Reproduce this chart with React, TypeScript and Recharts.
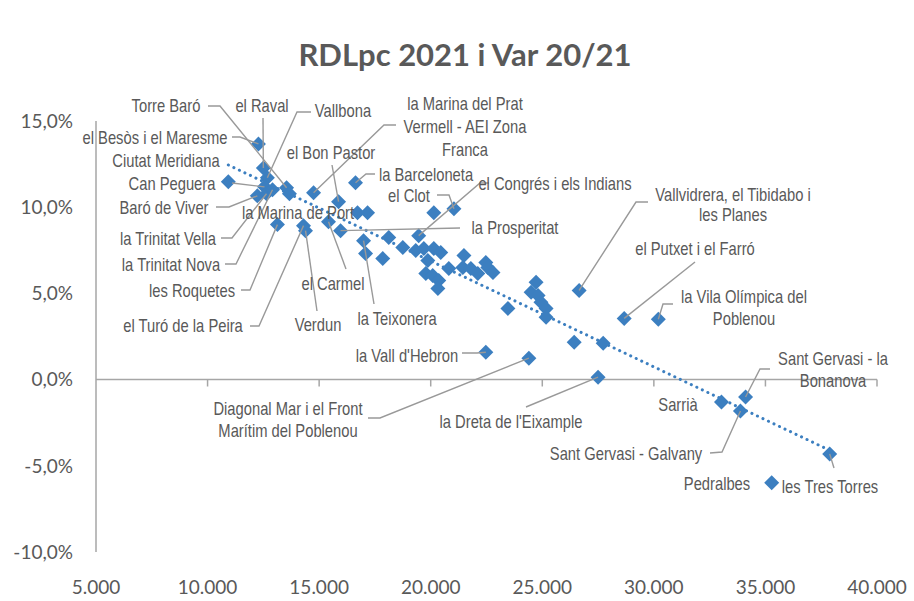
import React from 'react';
import { ScatterChart, Scatter, XAxis, YAxis, ReferenceLine } from 'recharts';

// RDLpc 2021 (x) vs variation 20/21 in % (y), one entry per neighbourhood
const neighbourhoods = [
  'el Besòs i el Maresme', 'el Raval', 'Vallbona', 'Ciutat Meridiana', 'Can Peguera',
  'Baró de Viver', 'la Trinitat Vella', 'la Trinitat Nova', 'Torre Baró', 'la Marina de Port',
  'la Marina del Prat Vermell - AEI Zona Franca', 'el Bon Pastor', 'la Barceloneta', 'les Roquetes',
  'el Turó de la Peira', 'Verdun', 'el Carmel', 'la Prosperitat', 'la Teixonera', 'el Clot',
  'el Congrés i els Indians', 'Vallvidrera, el Tibidabo i les Planes', "la Vall d'Hebron",
  'Diagonal Mar i el Front Marítim del Poblenou', "la Dreta de l'Eixample", 'el Putxet i el Farró',
  'la Vila Olímpica del Poblenou', 'Sarrià', 'Sant Gervasi - la Bonanova', 'Sant Gervasi - Galvany',
  'les Tres Torres', 'Pedralbes',
  '', '', '', '', '', '', '', '', '', '', '', '', '', '', '', '', '',
  '', '', '', '', '', '', '', '', '', '', '', '', '', '', '', '',
];

const rdlpc = [
  12280, 12500, 12680, 10930, 12550, 12230, 12640, 12910, 13540, 13670,
  14750, 15870, 16630, 13130, 14300, 14390, 15420, 15960, 16990, 21040,
  19460, 26650, 22470, 24400, 27500, 28670, 30200, 33030, 34110, 33880,
  37880, 35280,
  16720, 17170, 18120, 18750, 17080, 17850, 20140, 19330, 19690, 20140,
  20450, 19870, 19780, 20090, 20360, 20320, 20810, 21490, 21440, 21800,
  22110, 22470, 22560, 22790, 23460, 24720, 24500, 24810, 24940, 25170,
  25170, 26430, 27730,
];

const variation = [
  13.67, 12.28, 11.71, 11.47, 11.18, 10.66, 10.78, 11.01, 11.13, 10.78,
  10.84, 10.32, 11.42, 8.99, 8.93, 8.64, 9.16, 8.64, 8.06, 9.91,
  8.35, 5.17, 1.59, 1.24, 0.14, 3.55, 3.5, -1.3, -1.01, -1.82,
  -4.31, -5.98,
  9.68, 9.68, 8.24, 7.66, 7.31, 7.02, 9.68, 7.49, 7.6, 7.6,
  7.37, 6.91, 6.16, 6.04, 5.75, 5.29, 6.45, 7.2, 6.5, 6.45,
  6.16, 6.79, 6.5, 6.21, 4.13, 5.64, 5.06, 4.88, 4.48, 4.13,
  3.61, 2.17, 2.11,
];

const xTicks = [5000, 10000, 15000, 20000, 25000, 30000, 35000, 40000];
const yTicks = [-10, -5, 0, 5, 10, 15];

// linear trend, read at its two ends
const trendX = [10930, 37880];
const trendY = [12.45, -4.1];

const points = neighbourhoods.map((name, i) => ({ name, x: rdlpc[i], y: variation[i] }));

// where the data labels sit (text centre, line centres) and the elbow of each leader
const labelLayout: Record<string, { x: number; y: number[]; lines?: string[]; leader?: number[][] }> = {
  'Torre Baró': { x: 166, y: [105], leader: [[208, 106], [220, 106]] },
  'el Besòs i el Maresme': { x: 155, y: [137], leader: [[232, 137], [240, 137]] },
  'el Raval': { x: 262, y: [105], leader: [[263, 118]] },
  Vallbona: { x: 343, y: [110], leader: [[311, 112], [297, 112]] },
  'Ciutat Meridiana': { x: 166, y: [160] },
  'Can Peguera': { x: 172, y: [183], leader: [[232, 183]] },
  'Baró de Viver': { x: 164, y: [207], leader: [[216, 207], [229, 207]] },
  'la Trinitat Vella': { x: 168, y: [238], leader: [[221, 238], [232, 238]] },
  'la Trinitat Nova': { x: 171, y: [264], leader: [[225, 264], [236, 264]] },
  'les Roquetes': { x: 192, y: [290], leader: [[241, 290], [250, 290]] },
  'el Turó de la Peira': { x: 183, y: [325], leader: [[250, 326], [259, 326]] },
  Verdun: { x: 318, y: [324], leader: [[317, 311]] },
  'la Marina de Port': { x: 298, y: [212] },
  'el Carmel': { x: 333, y: [283], leader: [[346, 269]] },
  'la Teixonera': { x: 397, y: [318], leader: [[374, 304]] },
  'el Bon Pastor': { x: 331, y: [152], leader: [[332, 165]] },
  'la Marina del Prat Vermell - AEI Zona Franca': {
    x: 465, y: [103, 126, 149], lines: ['la Marina del Prat', 'Vermell - AEI  Zona', 'Franca'],
    leader: [[396, 125], [384, 125]],
  },
  'la Barceloneta': { x: 426, y: [174], leader: [[375, 174], [366, 174]] },
  'el Clot': { x: 409, y: [195], leader: [[437, 195], [449, 195]] },
  'el Congrés i els Indians': { x: 555, y: [183], leader: [[489, 183], [480, 183]] },
  'la Prosperitat': { x: 515, y: [227], leader: [[460, 228]] },
  'Vallvidrera, el Tibidabo i les Planes': {
    x: 733, y: [194, 214], lines: ['Vallvidrera, el Tibidabo i', 'les Planes'],
    leader: [[648, 202], [636, 202]],
  },
  'el Putxet i el Farró': { x: 695, y: [248], leader: [[695, 262]] },
  'la Vila Olímpica del Poblenou': {
    x: 744, y: [296, 318], lines: ['la Vila Olímpica del', 'Poblenou'],
    leader: [[673, 304], [663, 304]],
  },
  'Sant Gervasi - la Bonanova': {
    x: 833, y: [358, 380], lines: ['Sant Gervasi - la', 'Bonanova'],
    leader: [[770, 369], [760, 369]],
  },
  Sarrià: { x: 678, y: [404] },
  'Sant Gervasi - Galvany': { x: 626, y: [453], leader: [[710, 453], [722, 452]] },
  Pedralbes: { x: 717, y: [483] },
  'les Tres Torres': { x: 830, y: [486], leader: [[834, 468]] },
  "la Vall d'Hebron": { x: 407, y: [355], leader: [[462, 353], [477, 353]] },
  'Diagonal Mar i el Front Marítim del Poblenou': {
    x: 288, y: [408, 430], lines: ['Diagonal Mar i el Front', 'Marítim del Poblenou'],
    leader: [[368, 418], [380, 418]],
  },
  "la Dreta de l'Eixample": { x: 511, y: [421], leader: [[526, 407]] },
};

const BLUE = '#3c7fc0';
const GREY_TEXT = '#595959';
const AXIS = '#a6a6a6';
const LABEL_FONT = "'Liberation Sans', Arial, sans-serif";
const TICK_FONT = 'Lato, sans-serif';

const Diamond = (props: any) => {
  const { cx, cy } = props;
  const r = 7.5;
  return <path d={`M${cx},${cy - r}L${cx + r},${cy}L${cx},${cy + r}L${cx - r},${cy}Z`} fill={BLUE} />;
};

// labels look like Arial Narrow: Liberation Sans squeezed horizontally
const NameLabel = (props: any) => {
  const { cx, cy, payload } = props;
  const spec = labelLayout[payload.name];
  if (!spec) return <g />;
  const lines = spec.lines || [payload.name];
  const pts = spec.leader ? [...spec.leader, [cx, cy]] : null;
  return (
    <g>
      {pts && (
        <polyline
          points={pts.map((p) => p.join(',')).join(' ')}
          fill='none'
          stroke='#999999'
          strokeWidth={1.4}
        />
      )}
      {lines.map((line, i) => (
        <text
          key={i}
          transform={`translate(${spec.x} ${spec.y[i]}) scale(0.82 1)`}
          x={0}
          y={0}
          textAnchor='middle'
          dominantBaseline='central'
          fontFamily={LABEL_FONT}
          fontSize={18}
          fill={GREY_TEXT}
        >
          {line}
        </text>
      ))}
    </g>
  );
};

const fmtX = (v: number) => `${v / 1000}.000`;
const fmtY = (v: number) => `${v.toFixed(1).replace('.', ',')}%`;

const App = () => {
  return (
    <div style={{ position: 'absolute', left: 0, top: 0, width: 914, height: 601, background: '#fff' }}>
      <div
        style={{
          position: 'absolute',
          left: 465,
          top: 34,
          transform: 'translateX(-50%)',
          whiteSpace: 'nowrap',
          fontFamily: TICK_FONT,
          fontWeight: 700,
          fontSize: 31,
          color: GREY_TEXT,
          lineHeight: '40px',
        }}
      >
        RDLpc 2021 i Var 20/21
      </div>
      <ScatterChart width={914} height={601} margin={{ top: 121, right: 37, bottom: 0, left: 0 }}>
        <XAxis
          type='number'
          dataKey='x'
          domain={[5000, 40000]}
          ticks={xTicks}
          tickFormatter={fmtX}
          axisLine={false}
          tickLine={false}
          tickSize={0}
          tickMargin={29}
          height={49}
          tick={{ fill: GREY_TEXT, fontSize: 19, fontFamily: TICK_FONT }}
        />
        <YAxis
          type='number'
          dataKey='y'
          domain={[-10, 15]}
          ticks={yTicks}
          tickFormatter={fmtY}
          axisLine={{ stroke: AXIS, strokeWidth: 1.5 }}
          tickLine={false}
          tickSize={0}
          tickMargin={23}
          width={96}
          tick={{ fill: GREY_TEXT, fontSize: 19, fontFamily: TICK_FONT }}
        />
        <ReferenceLine y={0} stroke={AXIS} strokeWidth={1.5} />
        {xTicks.slice(1).map((t) => (
          <ReferenceLine
            key={t}
            segment={[{ x: t, y: 0 }, { x: t, y: -0.4 }]}
            stroke={AXIS}
            strokeWidth={1.5}
          />
        ))}
        <Scatter data={points} shape={Diamond} isAnimationActive={false} />
        <ReferenceLine
          segment={[{ x: trendX[0], y: trendY[0] }, { x: trendX[1], y: trendY[1] }]}
          stroke={BLUE}
          strokeWidth={3}
          strokeDasharray='0.1 6'
          strokeLinecap='round'
        />
        <Scatter data={points} shape={NameLabel} isAnimationActive={false} />
      </ScatterChart>
    </div>
  );
};

export default App;
